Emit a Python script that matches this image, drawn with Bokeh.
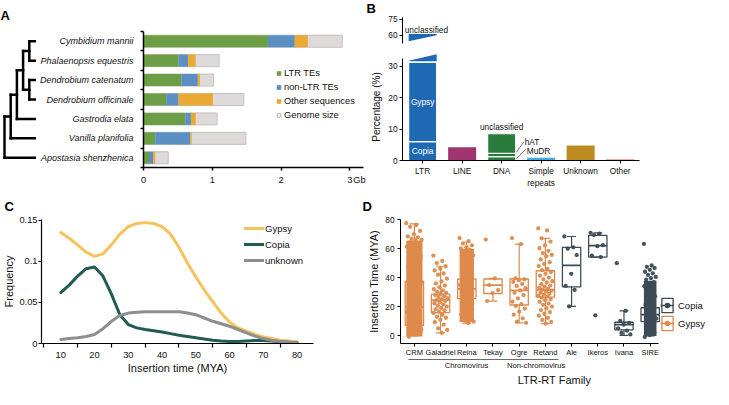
import numpy as np
from bokeh.plotting import figure
from bokeh.layouts import row, column
from bokeh.models import Range1d, FixedTicker, Legend, LegendItem, LinearAxis
from bokeh.core.properties import value
from bokeh.embed import file_html
from bokeh.resources import INLINE

FONT = "Liberation Sans"
NAN = float("nan")

# ---------------- Panel A data ----------------
species = ["Cymbidium mannii", "Phalaenopsis equestris", "Dendrobium catenatum",
           "Dendrobium officinale", "Gastrodia elata", "Vanilla planifolia",
           "Apostasia shenzhenica"]
genome_size = [2.89, 1.10, 1.02, 1.46, 1.07, 1.49, 0.36]
ltr_te = [1.81, 0.51, 0.55, 0.33, 0.61, 0.17, 0.08]
nonltr_te = [0.39, 0.14, 0.24, 0.18, 0.08, 0.51, 0.06]
other_seq = [0.19, 0.11, 0.03, 0.50, 0.07, 0.02, 0.03]
a_ticks = [0, 1, 2, 3]
a_unit = "Gb"
tree = (((((species[0], species[1]), (species[2], species[3])), species[4]), species[5]), species[6])

# ---------------- Panel B data ----------------
b_categories = ["LTR", "LINE", "DNA", "Simple\nrepeats", "Unknown", "Other"]
ltr_copia = 6.0
ltr_gypsy = 25.2
ltr_unclassified = 29.8
line_pct = 4.2
dna_mudr = 1.2
dna_hat = 1.1
dna_unclassified = 6.2
simple_repeats_pct = 0.85
unknown_pct = 4.75
other_pct = 0.5
b_low_ticks = [0, 10, 20, 30]
b_high_ticks = [60, 75]

# ---------------- Panel C data ----------------
mya = [10, 12.5, 15, 17.5, 20, 22.5, 25, 27.5, 30, 32.5, 35, 37.5, 40, 42.5, 45,
       47.5, 50, 52.5, 55, 57.5, 60, 62.5, 65, 67.5, 70, 72.5, 75, 77.5, 80]
freq_gypsy = [0.135, 0.128, 0.120, 0.111, 0.106, 0.109, 0.120, 0.133, 0.142, 0.146,
              0.147, 0.146, 0.142, 0.133, 0.117, 0.098, 0.081, 0.065, 0.051, 0.037,
              0.026, 0.019, 0.015, 0.011, 0.008, 0.006, 0.004, 0.003, 0.002]
freq_copia = [0.062, 0.071, 0.082, 0.091, 0.093, 0.082, 0.060, 0.035, 0.023, 0.019,
              0.017, 0.0155, 0.014, 0.012, 0.010, 0.0085, 0.007, 0.0055, 0.004, 0.003,
              0.0025, 0.0025, 0.003, 0.0035, 0.0035, 0.003, 0.002, 0.0015, 0.001]
freq_unknown = [0.005, 0.006, 0.007, 0.0085, 0.011, 0.018, 0.027, 0.034, 0.037, 0.038,
                0.0385, 0.0385, 0.0385, 0.0385, 0.0385, 0.037, 0.035, 0.031, 0.027, 0.024,
                0.021, 0.017, 0.013, 0.009, 0.006, 0.004, 0.0025, 0.0015, 0.001]
c_xticks = [10, 20, 30, 40, 50, 60, 70, 80]
c_yticks = [0, 0.05, 0.1, 0.15]

# ---------------- Panel D data ----------------
d_family = ["CRM", "Galadriel", "Reina", "Tekay", "Ogre", "Retand", "Ale", "Ikeros", "Ivana", "SIRE"]
d_superfamily = ["Gypsy"] * 6 + ["Copia"] * 4
d_q1 = [7.3, 16.1, 25.7, 29.2, 21.3, 26.7, 33.8, 54.3, 4.2, 9.8]
d_med = [19.8, 24.6, 32.4, 35.0, 31.3, 31.7, 48.6, 62.2, 7.7, 14.6]
d_q3 = [37.6, 28.8, 39.2, 39.2, 39.2, 44.9, 61.0, 69.3, 9.4, 19.4]
d_wlo = [0.0, 2.1, 8.8, 24.0, 9.0, 8.4, 20.3, 54.3, 0.4, 0.0]
d_whi = [77.2, 48.0, 64.7, 39.7, 63.3, 67.2, 68.5, 71.0, 17.3, 33.8]
cloud_family = ["CRM", "Reina", "SIRE"]
cloud_lo = [-0.5, 9.5, 0.0]
cloud_hi = [65.5, 60.0, 38.0]
pts_crm = [77.7, 76.4, 75.2, 72.3, 70.1, 68.6, 67.9, 66.8, 66.2, 65.9, 64.5, 63.7, 62.8,
           61.5, 60.2, 58.3, 55.0, 51.2, 47.5, 44.1, 40.2, 36.8, 33.0, 28.4, 24.1, 20.3,
           16.2, 12.5, 8.1, 4.4, 1.2, -0.6]
pts_galadriel = [55.3, 51.6, 50.2, 48.0, 46.3, 45.1, 43.0, 42.2, 39.4, 37.6, 36.1, 34.8,
                 33.5, 32.2, 31.3, 30.4, 29.6, 28.9, 28.1, 27.4, 26.8, 26.0, 25.3, 24.7,
                 24.0, 23.2, 22.5, 21.6, 20.9, 20.1, 19.3, 18.4, 17.6, 16.7, 15.8, 14.6,
                 13.2, 12.5, 11.1, 9.4, 7.8, 5.2, 4.1, 2.1]
pts_reina = [67.4, 65.3, 63.6, 62.4, 61.1, 60.3, 59.2, 57.8, 55.5, 52.1, 48.7, 44.2, 39.8,
             35.1, 30.6, 26.3, 22.0, 18.4, 14.9, 12.2, 10.6, 9.8, 8.8]
pts_tekay = [66.4, 39.7, 35.0, 31.6, 29.4, 24.0]
pts_ogre = [67.4, 63.3, 39.7, 39.0, 38.4, 37.2, 35.8, 34.4, 32.9, 31.3, 29.8, 28.1, 25.9,
            23.6, 21.9, 20.7, 18.8, 16.7, 14.6, 12.1, 9.9, 9.0]
pts_retand = [74.1, 72.7, 67.2, 65.0, 62.3, 60.4, 58.6, 57.1, 55.8, 54.9, 52.7, 50.8, 49.6,
              48.1, 46.2, 45.3, 44.1, 42.8, 41.5, 40.2, 38.9, 37.7, 36.8, 35.6, 34.7, 33.9,
              33.1, 32.4, 31.9, 31.2, 30.6, 29.8, 29.1, 28.5, 27.7, 27.0, 26.3, 25.4, 24.6,
              23.5, 22.3, 21.4, 20.2, 19.1, 17.8, 16.4, 15.2, 13.9, 12.4, 11.0, 9.6, 8.4]
pts_ale = [68.5, 61.0, 60.1, 55.7, 42.8, 34.4, 31.7, 20.3]
pts_ikeros = [71.0, 70.5, 69.5, 62.5, 61.8, 55.3, 54.3, 14.2]
pts_ivana = [50.1, 17.3, 10.4, 9.0, 7.7, 5.2, 3.6, 2.0, 1.0]
pts_sire = [63.4, 48.5, 47.6, 46.8, 45.5, 44.2, 43.1, 42.0, 40.6, 39.8, 38.7, 37.1, 36.0,
            34.2, 32.5, 30.1, 27.4, 24.6, 21.3, 18.2, 15.0, 11.9, 8.6, 5.3, 2.4, 0.5, -0.8]
d_points = [pts_crm, pts_galadriel, pts_reina, pts_tekay, pts_ogre, pts_retand,
            pts_ale, pts_ikeros, pts_ivana, pts_sire]
d_yticks = [0, 20, 40, 60, 80]
d_groups = ["Chromovirus", "Non-chromovirus"]

# ---------------- styles ----------------
A_COLORS = ["#6c9f45", "#5c8fc3", "#e9a933"]
GENOME_FILL, GENOME_LINE = "#dedada", "#c4c0c0"
B_BLUE, B_LINE, B_DNA, B_SR, B_UNK, B_OTH = "#1f69b3", "#a1356f", "#2b7b3c", "#3eaae0", "#be8b22", "#f2aaaa"
C_COLORS = {"Gypsy": "#f6c25c", "Copia": "#1f5c52", "unknown": "#8e8e8e"}
D_COLORS = {"Gypsy": "#dd8a4c", "Copia": "#3c4b55"}
TOP_H, BOT_H = 190, 199


def base(w, h, xr, yr, bl, br, bt, bb, **kw):
    p = figure(width=w, height=h, x_range=xr, y_range=yr, output_backend="svg",
               toolbar_location=None, min_border_left=bl, min_border_right=br,
               min_border_top=bt, min_border_bottom=bb, **kw)
    p.outline_line_color = None
    p.xgrid.visible = False
    p.ygrid.visible = False
    return p


def letter(p, text, offset, standoff, valign="bottom"):
    p.title.text = text
    p.title.align = "left"
    p.title.offset = offset
    p.title.standoff = standoff
    p.title.vertical_align = valign
    p.title.text_font = FONT
    p.title.text_font_size = "13px"
    p.title.text_font_style = "bold"
    p.title.text_color = "black"


def style_axis(ax, size, lw=1.0):
    ax.axis_line_color = "black"
    ax.axis_line_width = lw
    ax.major_tick_line_color = "black"
    ax.major_tick_line_width = lw
    ax.minor_tick_line_color = None
    ax.major_tick_in = 0
    ax.major_tick_out = 3
    ax.major_label_text_font = FONT
    ax.major_label_text_font_size = size
    ax.major_label_text_color = "#111111"
    ax.axis_label_text_font = FONT
    ax.axis_label_text_font_style = "normal"
    ax.axis_label_text_color = "#111111"


def legend(items, loc, gw, gh, standoff, size, spacing=0):
    return Legend(items=items, location=loc, background_fill_alpha=0, border_line_color=None,
                  padding=0, margin=0, spacing=spacing, glyph_width=gw, glyph_height=gh,
                  label_height=gh, label_standoff=standoff, label_text_font=FONT,
                  label_text_font_size=size, label_text_color="#111111")


# ================= Panel A =================
rows_y = list(range(len(species)))
TREE_W, TREE_PX, TREE_X0 = 36, 6.2, 4
A_TOP, A_BOT = 31, 23
treeF = base(TREE_W, TOP_H, Range1d(-TREE_X0 / TREE_PX, (TREE_W - TREE_X0) / TREE_PX),
             Range1d(6.5, -0.5), 0, 0, A_TOP, A_BOT, x_axis_location=None, y_axis_location=None)
letter(treeF, "A", 0, 14, "top")
seg_x0, seg_y0, seg_x1, seg_y1 = [], [], [], []
TIP_DEPTH = 5


def lay(node, depth):
    if isinstance(node, str):
        return species.index(node)
    ys = [lay(c, depth + 1) for c in node]
    seg_x0.append(depth); seg_x1.append(depth); seg_y0.append(min(ys)); seg_y1.append(max(ys))
    for c, yc in zip(node, ys):
        cx = TIP_DEPTH if isinstance(c, str) else depth + 1
        seg_x0.append(depth); seg_x1.append(cx); seg_y0.append(yc); seg_y1.append(yc)
    return sum(ys) / len(ys)


lay(tree, 0)
treeF.segment(seg_x0, seg_y0, seg_x1, seg_y1, line_color="black", line_width=2.5, line_cap="square")

unit_pos = a_ticks[-1] + 0.14
PA_W = 330
pa = base(PA_W, TOP_H, Range1d(0, a_ticks[-1] + 0.2), Range1d(6.5, -0.5), 107, 3, A_TOP, A_BOT)
BH = 0.62
pa.hbar(y=rows_y, left=0, right=genome_size, height=BH, fill_color=GENOME_FILL,
        line_color=GENOME_LINE, line_width=1)
c1 = np.array(ltr_te)
c2 = c1 + np.array(nonltr_te)
c3 = c2 + np.array(other_seq)
pa.hbar(y=rows_y, left=0, right=c1, height=BH, fill_color=A_COLORS[0], line_color=None)
pa.hbar(y=rows_y, left=c1, right=c2, height=BH, fill_color=A_COLORS[1], line_color=None)
pa.hbar(y=rows_y, left=c2, right=c3, height=BH, fill_color=A_COLORS[2], line_color=None)
style_axis(pa.xaxis[0], "9.3px", 1.5)
style_axis(pa.yaxis[0], "9px", 1.5)
pa.xaxis.ticker = FixedTicker(ticks=a_ticks + [unit_pos], minor_ticks=a_ticks)
pa.xaxis.major_label_overrides = {unit_pos: a_unit}
pa.xaxis.major_tick_out = 0
pa.xaxis.minor_tick_line_color = "black"
pa.xaxis.minor_tick_line_width = 1.5
pa.xaxis.minor_tick_out = 3
pa.xaxis.minor_tick_in = 0
pa.xaxis.major_label_standoff = 4
pa.yaxis.ticker = FixedTicker(ticks=rows_y, minor_ticks=[i - 0.5 for i in range(len(species) + 1)])
pa.yaxis.major_label_overrides = {i: s for i, s in enumerate(species)}
pa.yaxis.major_label_text_font_style = "italic"
pa.yaxis.major_tick_out = 0
pa.yaxis.minor_tick_line_color = "black"
pa.yaxis.minor_tick_line_width = 1.5
pa.yaxis.minor_tick_out = 3
pa.yaxis.minor_tick_in = 0
pa.yaxis.major_label_standoff = 7
la = []
for lab, fc, lc in [("LTR TEs", A_COLORS[0], A_COLORS[0]), ("non-LTR TEs", A_COLORS[1], A_COLORS[1]),
                    ("Other sequences", A_COLORS[2], A_COLORS[2]), ("Genome size", "#f4f2f2", "#b8b5b5")]:
    r = pa.scatter(x=[NAN], y=[NAN], marker="square", size=6, fill_color=fc, line_color=lc)
    la.append(LegendItem(label=lab, renderers=[r]))
pa.add_layout(legend(la, (131, 45), 9, 14, 1, "9.3px"))

# ================= Panel B =================
bx = list(range(len(b_categories)))
BW = 0.71
XR_B = (-0.51, 5.49)
B_W = 713 - TREE_W - PA_W
B_L = 36
B_R = B_W - B_L - 237
PBT_H = 52
pbt = base(B_W, PBT_H, Range1d(*XR_B), Range1d(52.05, 76.8), B_L, B_R, 16, 9, x_axis_location=None)
pbb = base(B_W, TOP_H - PBT_H, Range1d(*XR_B), Range1d(0, 34), B_L, B_R, 1, 25)
letter(pbt, "B", -36, 0, "top")

ltr_total = ltr_copia + ltr_gypsy + ltr_unclassified
gy_top = ltr_copia + ltr_gypsy
xl, xr = bx[0] - BW / 2, bx[0] + BW / 2
pbb.vbar(x=bx[0], bottom=0, top=ltr_copia, width=BW, fill_color=B_BLUE, line_color="white", line_width=1.2)
pbb.vbar(x=bx[0], bottom=ltr_copia, top=gy_top, width=BW, fill_color=B_BLUE, line_color="white", line_width=1.2)
pbb.patch(x=[xl, xr, xr, xl], y=[gy_top + 0.35, gy_top + 0.35, 33.8, 31.7], fill_color=B_BLUE, line_color=None)
pbt.patch(x=[xl, xr, xr, xl], y=[54.1, 60.0, ltr_total, ltr_total], fill_color=B_BLUE, line_color=None)
pbt.text(x=[xl - 0.1], y=[ltr_total + 4.0], text=["unclassified"], text_font=value(FONT),
         text_font_size="8.3px", text_baseline="middle", text_align="left", text_color="#111111")
pbb.text(x=[bx[0], bx[0]], y=[ltr_copia / 2, ltr_copia + ltr_gypsy / 2], text=["Copia", "Gypsy"],
         text_font=value(FONT), text_font_size="8.3px", text_color="white",
         text_align="center", text_baseline="middle")
pbb.vbar(x=bx[1], bottom=0, top=line_pct, width=BW, fill_color=B_LINE, line_color=None)
d1 = dna_mudr
d2 = d1 + dna_hat
d3 = d2 + dna_unclassified
pbb.vbar(x=[bx[2]] * 3, bottom=[0, d1, d2], top=[d1, d2, d3], width=BW, fill_color=B_DNA,
         line_color="white", line_width=1.2)
pbb.vbar(x=bx[3], bottom=0, top=simple_repeats_pct, width=BW, fill_color=B_SR, line_color=None)
pbb.vbar(x=bx[4], bottom=0, top=unknown_pct, width=BW, fill_color=B_UNK, line_color=None)
pbb.vbar(x=bx[5], bottom=0, top=other_pct, width=BW, fill_color=B_OTH, line_color=None)
pbb.text(x=[bx[2]], y=[d3 + 0.4], text=["unclassified"], text_font=value(FONT), text_font_size="8.3px",
         text_align="center", text_baseline="bottom", text_color="#111111")
lab_x = bx[2] + BW / 2 + 0.23
pbb.text(x=[lab_x, lab_x + 0.05], y=[d2 + 3.7, d1 + 1.7], text=["hAT", "MuDR"], text_font=value(FONT),
         text_font_size="8.3px", text_align="left", text_baseline="middle", text_color="#111111")
pbb.segment(x0=[bx[2] + BW / 2 + 0.02] * 2, y0=[d2 + 0.45, d1 / 2], x1=[lab_x - 0.02, lab_x + 0.02],
            y1=[d2 + 3.6, d1 + 2.3], line_color="#555555", line_width=0.8)
for pb in (pbt, pbb):
    style_axis(pb.yaxis[0], "8.3px", 1.0)
    pb.yaxis.major_label_standoff = 2
pbt.yaxis.ticker = FixedTicker(ticks=b_high_ticks)
pbb.yaxis.ticker = FixedTicker(ticks=b_low_ticks)
pbb.yaxis.bounds = (0, 32.3)
pbb.yaxis.axis_label = "Percentage (%)"
pbb.yaxis.axis_label_text_font_size = "10px"
pbb.yaxis.axis_label_standoff = 3
style_axis(pbb.xaxis[0], "8.3px", 1.0)
pbb.xaxis.ticker = FixedTicker(ticks=bx)
pbb.xaxis.major_label_overrides = {i: c for i, c in enumerate(b_categories)}
pbb.xaxis.major_label_standoff = 2

# ================= Panel C =================
C_TOP, C_BOT = 27, 46
C_W = 362
pc = base(C_W, BOT_H, Range1d(4.29, 84.86), Range1d(0, 0.1508), 38, 49, C_TOP, C_BOT)
letter(pc, "C", -37, 12)
rc = []
for name, ys in [("Gypsy", freq_gypsy), ("Copia", freq_copia), ("unknown", freq_unknown)]:
    r = pc.line(mya, ys, line_color=C_COLORS[name], line_width=3, line_join="round", line_cap="round")
    rc.append(LegendItem(label=name, renderers=[r]))
style_axis(pc.xaxis[0], "9.3px", 1.2)
style_axis(pc.yaxis[0], "9.3px", 1.2)
pc.xaxis.ticker = FixedTicker(ticks=c_xticks, minor_ticks=[t - 5 for t in c_xticks] + [c_xticks[-1] + 5])
pc.xaxis.major_tick_out = 0
pc.xaxis.minor_tick_line_color = "black"
pc.xaxis.minor_tick_line_width = 1.2
pc.xaxis.minor_tick_out = 4
pc.xaxis.minor_tick_in = 0
pc.xaxis.major_label_standoff = 4
pc.yaxis.ticker = FixedTicker(ticks=c_yticks)
pc.yaxis.major_label_overrides = {0: "0", 0.05: "0.05", 0.1: "0.1", 0.15: "0.15"}
pc.yaxis.major_label_standoff = 1
pc.xaxis.axis_label = "Insertion time (MYA)"
pc.yaxis.axis_label = "Frequency"
pc.xaxis.axis_label_text_font_size = "11px"
pc.yaxis.axis_label_text_font_size = "11px"
pc.xaxis.axis_label_standoff = 1
pc.yaxis.axis_label_standoff = 1
pc.add_layout(legend(rc, (203, 75), 20, 16, 1, "9.5px"))

# ================= Panel D =================
D_W = 713 - C_W
D_L = 38
D_PX = 26.2
D_X0 = -0.53
d_xend = D_X0 + (D_W - D_L - 5) / D_PX
pd_ = base(D_W, BOT_H, Range1d(D_X0, d_xend), Range1d(-5.24, 80.2), D_L, 5, C_TOP, C_BOT)
letter(pd_, "D", -38, 12)
dx = list(range(len(d_family)))
d_xmax = dx[-1] + 0.32
BOXW = 0.7
for fam, lo, hi in zip(cloud_family, cloud_lo, cloud_hi):
    i = d_family.index(fam)
    cw = 0.62 if fam == "CRM" else (0.55 if fam == "Reina" else 0.48)
    pd_.vbar(x=dx[i], bottom=lo, top=hi, width=cw, fill_color=D_COLORS[d_superfamily[i]],
             fill_alpha=1.0, line_color=None)
for i, pts in enumerate(d_points):
    jw = 0.62 if d_family[i] == "CRM" else (0.48 if d_family[i] == "SIRE" else 0.55)
    xs = [dx[i] + ((k * 0.618034) % 1 - 0.5) * jw for k in range(len(pts))]
    col = D_COLORS[d_superfamily[i]]
    pd_.scatter(xs, pts, size=4.3, fill_color=col, line_color=None, fill_alpha=0.95)
for sf in ["Gypsy", "Copia"]:
    idx = [i for i in dx if d_superfamily[i] == sf]
    col = D_COLORS[sf]
    xs = [dx[i] for i in idx]
    pd_.quad(left=[x - BOXW / 2 for x in xs], right=[x + BOXW / 2 for x in xs],
             bottom=[d_q1[i] for i in idx], top=[d_q3[i] for i in idx],
             fill_color=None, line_color=col, line_width=1.3)
    pd_.segment(x0=[x - BOXW / 2 for x in xs], x1=[x + BOXW / 2 for x in xs],
                y0=[d_med[i] for i in idx], y1=[d_med[i] for i in idx], line_color=col, line_width=1.8)
    pd_.segment(x0=xs + xs, x1=xs + xs, y0=[d_q3[i] for i in idx] + [d_q1[i] for i in idx],
                y1=[d_whi[i] for i in idx] + [d_wlo[i] for i in idx], line_color=col, line_width=1.2)
    pd_.segment(x0=[x - 0.17 for x in xs] * 2, x1=[x + 0.17 for x in xs] * 2,
                y0=[d_whi[i] for i in idx] + [d_wlo[i] for i in idx],
                y1=[d_whi[i] for i in idx] + [d_wlo[i] for i in idx], line_color=col, line_width=1.2)
style_axis(pd_.xaxis[0], "7.5px", 1.0)
style_axis(pd_.yaxis[0], "8.3px", 1.0)
pd_.xaxis.ticker = FixedTicker(ticks=dx)
pd_.xaxis.major_label_overrides = {i: f for i, f in enumerate(d_family)}
pd_.xaxis.major_label_standoff = 1
pd_.xaxis.bounds = (D_X0, d_xmax)
pd_.yaxis.ticker = FixedTicker(ticks=d_yticks)
pd_.yaxis.major_label_standoff = 3
pd_.yaxis.axis_label = "Insertion Time (MYA)"
pd_.yaxis.axis_label_text_font_size = "11px"
pd_.yaxis.axis_label_standoff = 2
gax = LinearAxis(ticker=FixedTicker(ticks=[1.99, 4.65]),
                 major_label_overrides={1.99: d_groups[0], 4.65: d_groups[1]},
                 bounds=(-0.235, 5.51))
style_axis(gax, "7.7px", 0.8)
gax.axis_line_color = "#444444"
gax.major_tick_out = 0
gax.major_label_standoff = 1
gax.axis_label = "LTR-RT Family"
gax.axis_label_text_font_size = "11px"
gax.axis_label_standoff = 1
pd_.add_layout(gax, "below")
ld = []
for sf in ["Copia", "Gypsy"]:
    col = D_COLORS[sf]
    rq = pd_.quad(left=[NAN], right=[NAN], bottom=[NAN], top=[NAN], fill_color="white",
                  line_color=col, line_width=1.3)
    rs = pd_.segment(x0=[NAN], x1=[NAN], y0=[NAN], y1=[NAN], line_color=col, line_width=1.5)
    rp = pd_.scatter(x=[NAN], y=[NAN], size=4.5, fill_color=col, line_color=None)
    ld.append(LegendItem(label=sf, renderers=[rq, rs, rp]))
pd_.add_layout(legend(ld, (260, 11), 14, 18, 4, "9.5px"))

layout = column(row(treeF, pa, column(pbt, pbb)), row(pc, pd_))
open("out.html", "w").write(file_html(layout, INLINE))
